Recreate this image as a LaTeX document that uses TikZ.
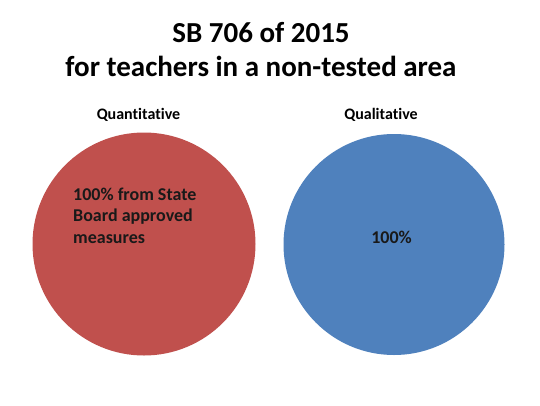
\documentclass[tikz,border=0pt]{standalone}
\usepackage{fontspec}
\setmainfont{Carlito}[Ligatures=CommonOff]
\definecolor{pred}{HTML}{C0504D}
\definecolor{pblue}{HTML}{4F81BD}
\begin{document}
\begin{tikzpicture}[x=1pt,y=-1pt,
  title/.style={font=\bfseries\fontsize{29}{35}\selectfont, anchor=base},
  label/.style={font=\bfseries\fontsize{16}{19}\selectfont, anchor=base},
  inner/.style={font=\bfseries\fontsize{18}{21.5}\selectfont, text=black!90}]
\useasboundingbox[fill=white] (0,0) rectangle (540,405);
\node[title] (t1) at (261,42.3) {SB 706 of 2015};
\node[title] (t2) at (261,76.7) {for teachers in a non-tested area};
\node[label] (l1) at (138.5,119) {Quantitative};
\node[label] (l2) at (381,119) {Qualitative};
\fill[pred] (144,244) circle[radius=111.5];
\fill[pblue] (394,244.5) circle[radius=110.5];
\node[inner, anchor=base west, align=left, inner sep=0pt] (q1) at (73,243) {100\% from State\\Board approved\\measures};
\node[inner, anchor=base, inner sep=0pt] (q2) at (391.5,243) {100\%};
\end{tikzpicture}
\end{document}
